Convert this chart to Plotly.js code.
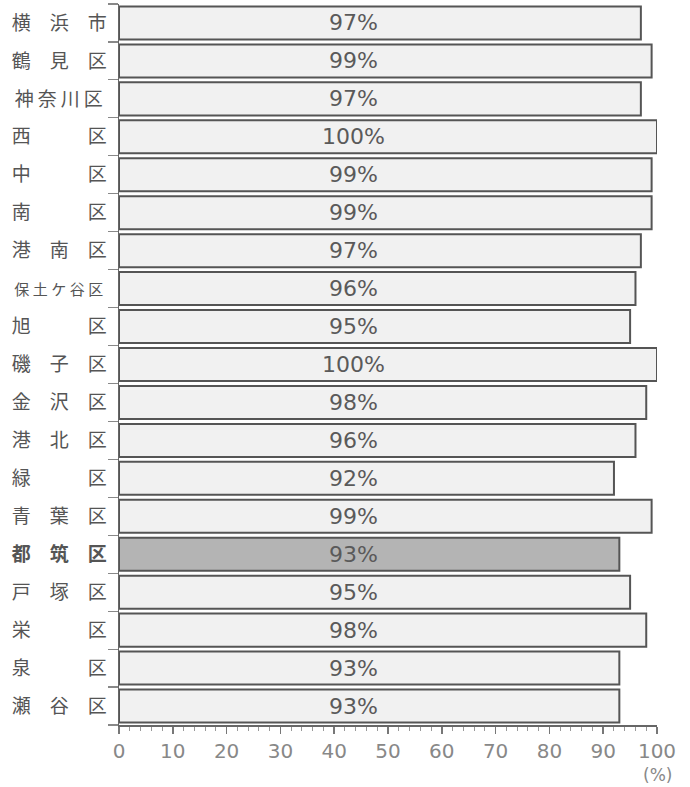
<!DOCTYPE html>
<html>
<head>
<meta charset="utf-8">
<script src="https://cdn.plot.ly/plotly-3.0.1.min.js"></script>
<style>html,body{margin:0;padding:0;background:#fff;}#chart{width:690px;height:787px;}</style>
</head>
<body>
<div id="chart"></div>
<script>
var categories = ["横浜市","鶴見区","神奈川区","西区","中区","南区","港南区","保土ケ谷区","旭区","磯子区","金沢区","港北区","緑区","青葉区","都筑区","戸塚区","栄区","泉区","瀬谷区"];
var categoryLabels = ["横　浜　市","鶴　見　区","<span style='letter-spacing:4px'>神奈川区</span>","西　　　区","中　　　区","南　　　区","港　南　区","<span style='font-size:15px;letter-spacing:3.5px'>保土ケ谷区</span>","旭　　　区","磯　子　区","金　沢　区","港　北　区","緑　　　区","青　葉　区","<b>都　筑　区</b>","戸　塚　区","栄　　　区","泉　　　区","瀬　谷　区"];
var values = [97,99,97,100,99,99,97,96,95,100,98,96,92,99,93,95,98,93,93];
var highlight = "都筑区";
var xTickVals = [0,10,20,30,40,50,60,70,80,90,100];

var fills = categories.map(function(c){ return c === highlight ? "#b4b4b4" : "#f1f1f1"; });

var annotations = categories.map(function(c, i){
  return {x: 43.5, y: c, xref: "x", yref: "y", text: values[i] + "%", showarrow: false,
    font: {family: "DejaVu Sans", size: 22, color: "#5a5a5a"}, xanchor: "center", yanchor: "middle"};
});
annotations.push({x: 100, y: 0, xref: "x", yref: "paper", yshift: -50, text: "(%)", showarrow: false,
  font: {family: "DejaVu Sans", size: 17, color: "#888"}, xanchor: "center", yanchor: "middle"});

var trace = {
  type: "bar", orientation: "h", y: categories, x: values,
  marker: {color: fills, line: {color: "#555", width: 2}},
  hoverinfo: "none"
};

var layout = {
  width: 690, height: 787,
  margin: {l: 119, r: 33, t: 4, b: 62},
  paper_bgcolor: "#fff", plot_bgcolor: "#fff",
  showlegend: false, bargap: 0.13,
  xaxis: {range: [0, 100], tickvals: xTickVals, ticks: "outside", ticklen: 7, tickwidth: 1.5, tickcolor: "#777",
    showline: true, linecolor: "#666", linewidth: 1.5, showgrid: false, zeroline: false,
    minor: {dtick: 2, ticks: "outside", ticklen: 4, tickcolor: "#999", tickwidth: 1, showgrid: false},
    tickfont: {family: "DejaVu Sans", size: 20, color: "#888"}, ticklabelstandoff: 0, fixedrange: true},
  yaxis: {type: "category", autorange: "reversed", tickvals: categories, ticktext: categoryLabels,
    tickson: "boundaries", ticks: "outside", ticklen: 10, tickcolor: "#888", tickwidth: 1.2,
    showline: true, linecolor: "#666", linewidth: 1.5, showgrid: false, zeroline: false,
    tickfont: {family: "Noto Sans CJK JP", size: 19, color: "#555"}, ticklabelstandoff: 7, fixedrange: true},
  annotations: annotations
};

Plotly.newPlot("chart", [trace], layout, {displayModeBar: false, staticPlot: true});
</script>
</body>
</html>
